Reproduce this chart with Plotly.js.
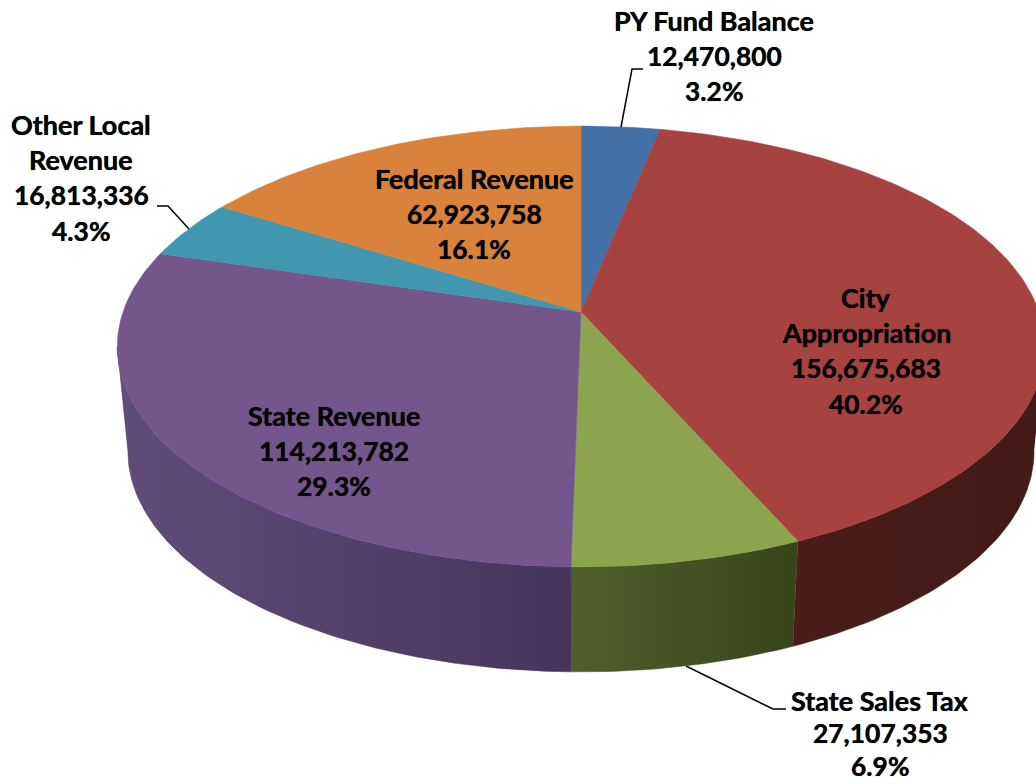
<!DOCTYPE html>
<html>
<head>
<meta charset="utf-8">
<script src="https://cdn.plot.ly/plotly-3.0.1.min.js"></script>
<style>html,body{margin:0;padding:0;background:#fff}#chart{width:1036px;height:784px}</style>
</head>
<body>
<div id="chart"></div>
<script>
// Data, clockwise from twelve o'clock
const categories = ["PY Fund Balance", "City Appropriation", "State Sales Tax", "State Revenue", "Other Local Revenue", "Federal Revenue"];
const amounts = [12470800, 156675683, 27107353, 114213782, 16813336, 62923758];
const amountLabels = ["12,470,800", "156,675,683", "27,107,353", "114,213,782", "16,813,336", "62,923,758"];
const percentLabels = ["3.2%", "40.2%", "6.9%", "29.3%", "4.3%", "16.1%"];
const nameLines = [["PY Fund Balance"], ["City", "Appropriation"], ["State Sales Tax"], ["State Revenue"], ["Other Local", "Revenue"], ["Federal Revenue"]];

// Styles
const faceColors = ["#4470a8", "#a64341", "#8ca44e", "#75568c", "#4197b0", "#d9823b"];
const wallStops = [
  ["#2f4d75", "#2f4d75"], ["#4b1c18", "#431a17"], ["#50602b", "#38441b"],
  ["#624d7a", "#45355a"], ["#2d6a7b", "#2d6a7b"], ["#97592a", "#97592a"]
];
// Where each label's centre sits, its first line, and its line spacing (pixels of the plot)
const labelCx = [714, 866, 880, 334, 81, 474];
const labelTop = [20, 297, 700, 415, 124, 178];
const labelGap = [35.7, 35.7, 33, 35.7, 35.7, 35.7];
const textShadow = "0 0 0.7px #000";
const nameFont = {family: "Lato, Carlito, 'Noto Sans', sans-serif", size: 27, color: "#050505", weight: 700, shadow: textShadow};
const numberFont = {family: "Lato, Carlito, 'Noto Sans', sans-serif", size: 26.4, color: "#050505", weight: 700, shadow: textShadow};

// Pie projection: a tilted disc in perspective
const cx = 581, cy = 312, R = 458, S = 215, K = 0.1565, depth = 105, shrink = 0.977;
function project(deg, wall) {
  const t = deg * Math.PI / 180, d = 1 + K * Math.cos(t);
  let x = R * Math.sin(t) / d, y = -S * Math.cos(t) / d;
  if (wall) { x *= shrink; y += depth; }
  return [cx + x, cy + y];
}
function arc(a0, a1, wall) {
  const pts = [], n = Math.max(2, Math.ceil(Math.abs(a1 - a0)));
  for (let i = 0; i <= n; i++) pts.push(project(a0 + (a1 - a0) * i / n, wall));
  return pts;
}

const total = amounts.reduce((a, b) => a + b, 0);
const edges = [0];
amounts.forEach(v => edges.push(edges[edges.length - 1] + v / total * 360));

// Front-facing range of the side wall (between the left and right extremes of the disc)
const wallFrom = Math.acos(-K) * 180 / Math.PI, wallTo = 360 - wallFrom;

const traces = [];
categories.forEach((name, i) => {
  const a0 = Math.max(edges[i], wallFrom), a1 = Math.min(edges[i + 1], wallTo);
  if (a1 <= a0) return;
  const top = arc(a0, a1, false), bottom = arc(a1, a0, true);
  const pts = top.concat(bottom);
  traces.push({
    type: "scatter", mode: "lines", name: name + " side", fill: "toself",
    x: pts.map(p => p[0]), y: pts.map(p => p[1]),
    line: {width: 0.5, color: wallStops[i][1]},
    fillcolor: wallStops[i][1],
    fillgradient: {type: "horizontal", colorscale: [[0, wallStops[i][0]], [1, wallStops[i][1]]]},
    hoverinfo: "skip"
  });
});
categories.forEach((name, i) => {
  const pts = [[cx, cy]].concat(arc(edges[i], edges[i + 1], false));
  pts.push([cx, cy]);
  traces.push({
    type: "scatter", mode: "lines", name: name, fill: "toself",
    x: pts.map(p => p[0]), y: pts.map(p => p[1]),
    line: {width: 0.5, color: faceColors[i]},
    fillcolor: faceColors[i],
    text: amountLabels[i] + " (" + percentLabels[i] + ")", hoverinfo: "name+text"
  });
});

const annotations = [];
categories.forEach((name, i) => {
  const names = nameLines[i], numbers = [amountLabels[i], percentLabels[i]];
  names.concat(numbers).forEach((t, j) => annotations.push({
    x: labelCx[i], y: labelTop[i] + j * labelGap[i], xref: "x", yref: "y",
    text: "<b>" + t + "</b>", showarrow: false, xanchor: "center", yanchor: "middle",
    font: j < names.length ? nameFont : numberFont
  }));
});

const leader = d => ({type: "path", xref: "x", yref: "y", path: d, line: {color: "#000", width: 1.5}, layer: "above"});
const layout = {
  width: 1036, height: 784,
  margin: {l: 0, r: 0, t: 0, b: 0},
  paper_bgcolor: "#fff", plot_bgcolor: "#fff",
  showlegend: false,
  xaxis: {range: [0, 1036], visible: false, fixedrange: true},
  yaxis: {range: [784, 0], visible: false, fixedrange: true},
  annotations: annotations,
  shapes: [
    leader("M643,69 L632,69 L621,127"),
    leader("M157,206 L168,206 L189,229"),
    leader("M686,666 L773,709 L786,709")
  ]
};
Plotly.newPlot("chart", traces, layout, {displayModeBar: false, responsive: false});
</script>
</body>
</html>
